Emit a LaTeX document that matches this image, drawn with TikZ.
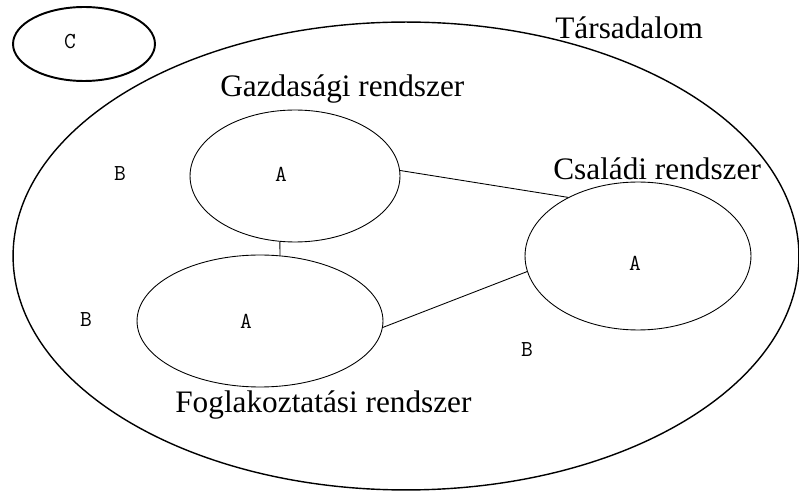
\documentclass[tikz,border=0pt]{standalone}
\usepackage{fontspec}
\setmainfont{Liberation Serif}
\usetikzlibrary{shapes.geometric}

\tikzset{
  rendszer/.style = {ellipse, draw, line width=0.5pt, inner sep=0},
  betu/.style = {font=\ttfamily\fontsize{13}{13}\selectfont, inner sep=0},
  felirat/.style = {font=\fontsize{17.8}{20}\selectfont, inner sep=0, anchor=base west},
}

\begin{document}
\begin{tikzpicture}[x=0.02cm, y=-0.02cm]
\useasboundingbox (0, 0) rectangle (799, 493);
\node [rendszer, line width=0.8pt, minimum width=15.72cm, minimum height=9.36cm] (tars) at (406, 256) {};
\node [rendszer, line width=1.1pt, minimum width=2.84cm, minimum height=1.48cm] (kulso) at (84, 44) {};
\node [rendszer, minimum width=4.2cm, minimum height=2.64cm] (gazd) at (295, 176) {};
\node [rendszer, minimum width=4.92cm, minimum height=2.64cm] (fogl) at (260, 321) {};
\node [rendszer, minimum width=4.52cm, minimum height=2.96cm] (csal) at (638, 256) {};
\node [felirat] (tars label) at (555, 39) {Társadalom};
\node [felirat] (gazd label) at (220, 97) {Gazdasági rendszer};
\node [felirat] (csal label) at (553, 180) {Családi rendszer};
\node [felirat] (fogl label) at (175, 413) {Foglakoztatási rendszer};
\node [betu] (c) at (70, 42) {C};
\node [betu] (b1) at (120, 174) {B};
\node [betu] (b2) at (86, 320) {B};
\node [betu] (b3) at (527, 350) {B};
\node [betu] (a1) at (281, 174) {A};
\node [betu] (a2) at (246, 321) {A};
\node [betu] (a3) at (635, 263) {A};
\draw [line width=0.5pt] (gazd.3) -- (csal.140);
\draw [line width=0.5pt] (fogl.-3) -- (csal.-172);
\draw [line width=0.5pt] (gazd.-103) -- (fogl.73);
\end{tikzpicture}
\end{document}
